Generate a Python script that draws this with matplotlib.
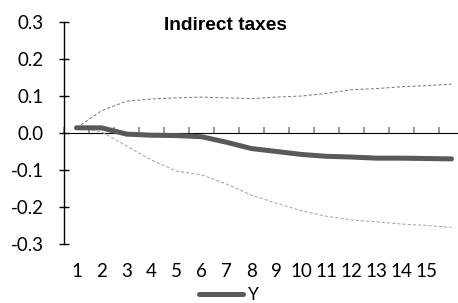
import numpy as np
import matplotlib.pyplot as plt

plt.rcParams['axes.unicode_minus'] = False

periods = list(range(1, 17))
tick_labels = [str(p) for p in periods[:15]] + ['']

y_mid = [0.014, 0.014, -0.003, -0.006, -0.007, -0.010, -0.025, -0.042,
         -0.050, -0.058, -0.063, -0.065, -0.068, -0.068, -0.069, -0.070]
y_upper = [0.014, 0.060, 0.086, 0.092, 0.095, 0.097, 0.095, 0.093,
           0.097, 0.100, 0.107, 0.117, 0.120, 0.125, 0.128, 0.132]
y_lower = [0.014, 0.003, -0.035, -0.073, -0.103, -0.113, -0.138, -0.168,
           -0.190, -0.210, -0.225, -0.235, -0.240, -0.246, -0.250, -0.255]

fig = plt.figure(figsize=(4.58, 3.03), dpi=100)
# axis runs past the right edge, like the original
ax = fig.add_axes([64 / 458, 59 / 303, 400 / 458, 222 / 303])

ax.plot(periods, y_upper, color='#7f7f7f', lw=0.75, ls=(0, (3, 2)))
ax.plot(periods, y_lower, color='#a6a6a6', lw=0.75, ls=(0, (3, 2)))
line, = ax.plot(periods, y_mid, color='#595959', lw=3.6,
                solid_capstyle='round', label='Y')

ax.set_xlim(0.5, 16.5)
ax.set_ylim(-0.3, 0.3)
ax.set_yticks([-0.3, -0.2, -0.1, 0.0, 0.1, 0.2, 0.3])
ax.set_yticklabels(['%.1f' % v for v in ax.get_yticks()])

for s in ['top', 'right', 'bottom']:
    ax.spines[s].set_visible(False)
ax.spines['left'].set_color('black')
ax.spines['left'].set_linewidth(1.0)
ax.tick_params(axis='y', direction='inout', length=7, width=1.0,
               pad=11, labelsize=13.5, labelcolor='black')
ax.set_xticks(periods)
ax.set_xticklabels(tick_labels)
ax.tick_params(axis='x', length=0, pad=14, labelsize=13.5)
for lab in ax.get_xticklabels() + ax.get_yticklabels():
    lab.set_family('Lato')

# horizontal axis drawn at zero
zero_ax = ax.secondary_xaxis(0.5)
zero_ax.spines['bottom'].set_color('#868686')
zero_ax.spines['bottom'].set_linewidth(1.2)
zero_ax.set_xticks(np.arange(0.5, 17, 1))
zero_ax.set_xticklabels([])
zero_ax.tick_params(length=4, width=1.2, color='#868686', direction='out')

fig.text(225 / 458, 1 - 25 / 303, 'Indirect taxes', ha='center', va='center',
         fontsize=13.8, fontweight='bold', family='Liberation Sans')

fig.legend(handles=[line], loc='center', bbox_to_anchor=(229 / 458, 7.5 / 303),
           frameon=False, handlelength=2.5, handletextpad=0.3,
           prop={'family': 'Lato', 'size': 12.5})

fig.savefig('out.png', dpi=100)
